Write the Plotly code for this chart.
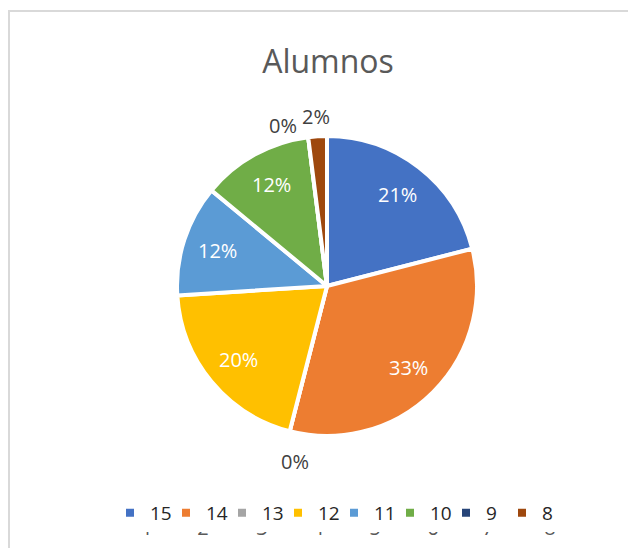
import math
import plotly.graph_objects as go

# edades y porcentaje de alumnos
edades = ["15", "14", "13", "12", "11", "10", "9", "8"]
alumnos = [21, 33, 0, 20, 12, 12, 0, 2]
colores = ["#4472C4", "#ED7D31", "#A5A5A5", "#FFC000", "#5B9BD5", "#70AD47", "#264478", "#9E480E"]
numeros_abajo = ["1", "2", "3", "4", "5", "6", "7", "8"]

W, H = 636, 548
font_fam = "Open Sans, Carlito, Calibri, sans-serif"

# geometría del pastel en px de la figura
cx, cy, R = 319, 278, 150

fig = go.Figure(go.Pie(
    labels=edades,
    values=alumnos,
    marker=dict(colors=colores, line=dict(color="white", width=4)),
    sort=False,
    direction="clockwise",
    rotation=0,
    textinfo="none",
    hoverinfo="label+value+percent",
    domain=dict(x=[(cx - R) / W, (cx + R) / W], y=[1 - (cy + R) / H, 1 - (cy - R) / H]),
    showlegend=True,
))

# fila de números del eje, casi tapada por la leyenda (como en Excel)
x_num = [139, 195, 254, 310, 367, 425, 480, 542]
fig.add_trace(go.Scatter(x=x_num, y=[522] * len(x_num), text=numeros_abajo, mode="text",
                         textfont=dict(size=20, color="#595959", family=font_fam),
                         showlegend=False, hoverinfo="skip"))

# etiquetas de porcentaje: dentro a 0.77R, fuera las pequeñas (ajuste de ángulo y radio)
fuera = {"13": (-4, 1.19), "9": (-8, 1.11), "8": (0, 1.13)}
total = sum(alumnos)
acum = 0
for lab, v in zip(edades, alumnos):
    mid = (acum + v / 2) / total * 360
    acum += v
    pct = f"{round(v / total * 100)}%"
    if lab in fuera:
        da, rf = fuera[lab]
        ang = math.radians(mid + da)
        col = "#404040"
    else:
        ang = math.radians(mid)
        rf = 0.77
        col = "white"
    px_ = cx + rf * R * math.sin(ang)
    py_ = cy - rf * R * math.cos(ang)
    fig.add_annotation(text=pct, x=px_ / W, y=1 - py_ / H, xref="paper", yref="paper",
                       xanchor="center", yanchor="middle", showarrow=False,
                       font=dict(size=20, color=col, family=font_fam))

fig.update_layout(
    width=W,
    height=H,
    margin=dict(l=0, r=0, t=0, b=0),
    paper_bgcolor="white",
    plot_bgcolor="white",
    xaxis=dict(range=[0, W], visible=False, fixedrange=True),
    yaxis=dict(range=[H, 0], visible=False, fixedrange=True),
    title=dict(text="Alumnos", x=320 / W, xanchor="center", y=1 - 54 / H, yanchor="middle",
               font=dict(size=32, color="#595959", family=font_fam)),
    legend=dict(orientation="h", x=102 / W, xanchor="left", y=1 - 505 / H, yanchor="middle",
                bgcolor="white",
                font=dict(size=19, color="#262626", family=font_fam),
                itemwidth=30, entrywidth=11, traceorder="normal"),
    shapes=[
        dict(type="rect", xref="paper", yref="paper", x0=1 / W, x1=1.05, y0=-0.05, y1=1 - 3 / H,
             line=dict(color="#D9D9D9", width=2)),
        # caja blanca de la leyenda que tapa la parte alta de los números
        dict(type="rect", xref="paper", yref="paper", x0=112 / W, x1=567 / W,
             y0=1 - 519 / H, y1=1 - 485 / H, fillcolor="white", line=dict(width=0), layer="above"),
    ],
)

fig.write_html("out.html")
